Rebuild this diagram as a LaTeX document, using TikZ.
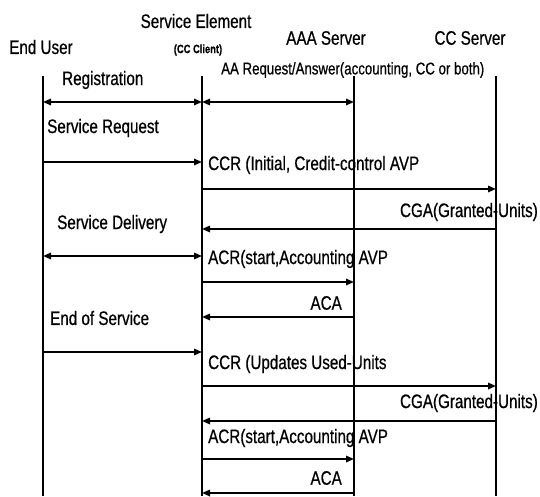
\documentclass[tikz,border=0pt]{standalone}
\usepackage{fontspec}
\setmainfont{Liberation Sans}[FakeStretch=0.78,FakeBold=0.6]
\usetikzlibrary{arrows.meta}
\begin{document}
\begin{tikzpicture}[x=1pt,y=-1pt,
  lbl/.style={inner sep=0pt,font=\fontsize{19.5}{21}\selectfont},
  slbl/.style={inner sep=0pt,font=\fontsize{17}{19}\selectfont},
  life/.style={line width=2.6pt},
  msg/.style={line width=1.6pt,-{Triangle[length=8pt,width=6.5pt]}},
  dmsg/.style={line width=1.6pt,{Triangle[length=8pt,width=6.5pt]}-{Triangle[length=8pt,width=6.5pt]}}]
\useasboundingbox (0,0) rectangle (540,497);
% headers
\node[lbl] (hEU) at (41,47) {End User};
\node[lbl] (hSE) at (196,21) {Service Element};
\node[inner sep=0pt,font=\fontsize{12}{13}\bfseries\selectfont] (hCC) at (198,50) {(CC Client)};
\node[lbl] (hAAA) at (326,38) {AAA Server};
\node[lbl] (hCCS) at (470,38) {CC Server};
% lifeline ends
\coordinate (eu) at (43,76);
\coordinate (se) at (202,76);
\coordinate (aaa) at (354,76);
\coordinate (cc) at (496,76);
\coordinate (bot) at (0,496);
% message levels
\coordinate (m1) at (0,102);
\coordinate (m2) at (0,162);
\coordinate (m3) at (0,189);
\coordinate (m4) at (0,229);
\coordinate (m5) at (0,256);
\coordinate (m6) at (0,282);
\coordinate (m7) at (0,317);
\coordinate (m8) at (0,352);
\coordinate (m9) at (0,386);
\coordinate (m10) at (0,421);
\coordinate (m11) at (0,459);
\coordinate (m12) at (0,493);
% labels
\node[lbl,anchor=west] (t1) at (62,80) {Registration};
\node[slbl,anchor=west] (t1b) at (221,70) {AA Request/Answer(accounting, CC or both)};
\node[lbl,anchor=west] (t2) at (47,128) {Service Request};
\node[lbl,anchor=west] (t3) at (208,165) {CCR (Initial, Credit-control AVP};
\node[lbl,anchor=east] (t4) at (538,212) {CGA(Granted-Units)};
\node[lbl,anchor=west] (t5) at (57,224) {Service Delivery};
\node[lbl,anchor=west] (t6) at (208,259) {ACR(start,Accounting AVP};
\node[lbl,anchor=east] (t7) at (342,303) {ACA};
\node[lbl,anchor=west] (t8) at (50,318) {End of Service};
\node[lbl,anchor=west] (t9) at (208,364) {CCR (Updates Used-Units};
\node[lbl,anchor=east] (t10) at (538,403) {CGA(Granted-Units)};
\node[lbl,anchor=west] (t11) at (208,438) {ACR(start,Accounting AVP};
\node[lbl,anchor=east] (t12) at (342,478) {ACA};
% lifelines
\draw[life] (eu) -- (eu |- bot);
\draw[life] (se) -- (se |- bot);
\draw[life] (aaa) -- (aaa |- bot);
\draw[life] (cc) -- (cc |- bot);
% messages
\draw[dmsg] (eu |- m1) -- (se |- m1);
\draw[dmsg] (se |- m1) -- (aaa |- m1);
\draw[msg] (eu |- m2) -- (se |- m2);
\draw[msg] (se |- m3) -- (cc |- m3);
\draw[msg] (cc |- m4) -- (se |- m4);
\draw[dmsg] (eu |- m5) -- (se |- m5);
\draw[msg] (se |- m6) -- (aaa |- m6);
\draw[msg] (aaa |- m7) -- (se |- m7);
\draw[msg] (eu |- m8) -- (se |- m8);
\draw[msg] (se |- m9) -- (cc |- m9);
\draw[msg] (cc |- m10) -- (se |- m10);
\draw[msg] (se |- m11) -- (aaa |- m11);
\draw[msg] (aaa |- m12) -- (se |- m12);
\end{tikzpicture}
\end{document}
